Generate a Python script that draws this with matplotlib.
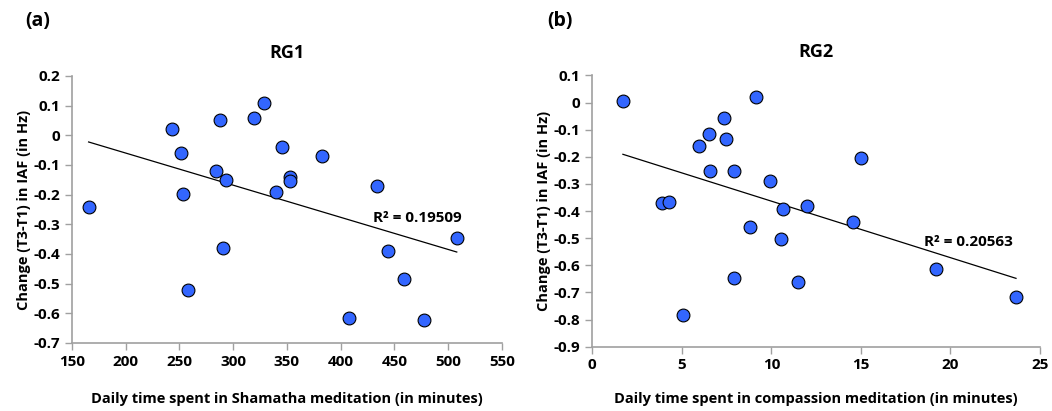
import numpy as np
import matplotlib.pyplot as plt

# RG1: daily Shamatha minutes vs change in IAF
rg1_minutes = [165.5, 243, 251, 253, 257.6, 283.6, 288, 290.8, 293.6, 319.3, 328.9,
               339.5, 345, 353, 352.5, 382.9, 408, 434, 444, 459, 477.5, 508]
rg1_change = [-0.24, 0.02, -0.06, -0.197, -0.52, -0.12, 0.05, -0.38, -0.15, 0.06, 0.11,
              -0.19, -0.04, -0.14, -0.155, -0.07, -0.615, -0.17, -0.39, -0.485, -0.622, -0.345]
rg1_r2 = "0.19509"

# RG2: daily compassion minutes vs change in IAF
rg2_minutes = [1.71, 3.89, 4.30, 5.04, 5.94, 6.52, 6.59, 7.37, 7.46, 7.89, 7.91,
               8.80, 9.12, 9.92, 10.54, 10.65, 11.47, 11.97, 14.54, 14.99, 19.17, 23.66]
rg2_change = [0.005, -0.372, -0.366, -0.783, -0.159, -0.115, -0.254, -0.058, -0.133, -0.254, -0.646,
              -0.459, 0.021, -0.291, -0.503, -0.393, -0.660, -0.382, -0.441, -0.203, -0.615, -0.716]
rg2_r2 = "0.20563"

plt.rcParams['font.family'] = ['Open Sans', 'DejaVu Sans']
plt.rcParams['font.weight'] = 'bold'

fig = plt.figure(figsize=(10.52, 4.11), dpi=100)
ax1 = fig.add_axes([0.0684, 0.1655, 0.4087, 0.6496])
ax2 = fig.add_axes([0.563, 0.1565, 0.4256, 0.660])

ylabel = "Change (T3-T1) in IAF (in Hz)"


def panel(ax, x, y, r2, xlim, xticks, ylim, yticks, title, xlabel, r2_pos, xpad):
    x = np.array(x)
    y = np.array(y)
    ax.scatter(x, y, s=85, color='#3366ff', edgecolors='black', linewidths=0.8, zorder=3)
    k, b = np.polyfit(x, y, 1)
    xs = np.array([x.min(), x.max()])
    ax.plot(xs, k * xs + b, color='black', linewidth=0.9, zorder=2)
    ax.text(r2_pos[0], r2_pos[1], "R² = " + r2, fontsize=11, fontweight='bold',
            va='center', ha='left')
    ax.set_xlim(*xlim)
    ax.set_ylim(*ylim)
    ax.set_xticks(xticks)
    ax.set_yticks(yticks)
    ax.set_yticklabels(["0" if abs(t) < 1e-9 else f"{t:.1f}" for t in yticks])
    for s in ['top', 'right']:
        ax.spines[s].set_visible(False)
    for s in ['left', 'bottom']:
        ax.spines[s].set_color('#a0a0a0')
        ax.spines[s].set_linewidth(1.2)
    ax.tick_params(axis='both', colors='#a0a0a0', labelcolor='black', length=5,
                   width=1.0, labelsize=11)
    for lab in ax.get_xticklabels() + ax.get_yticklabels():
        lab.set_fontweight('bold')
    ax.set_title(title, fontsize=13, fontweight='bold', pad=13)
    ax.set_xlabel(xlabel, fontsize=10.5, fontweight='bold', labelpad=xpad)
    ax.set_ylabel(ylabel, fontsize=10.5, fontweight='bold', labelpad=2)


panel(ax1, rg1_minutes, rg1_change, rg1_r2, (150, 550), range(150, 551, 50),
      (-0.7, 0.2), np.round(np.arange(-0.7, 0.21, 0.1), 1), "RG1",
      "Daily time spent in Shamatha meditation (in minutes)", (430, -0.279), 17)
panel(ax2, rg2_minutes, rg2_change, rg2_r2, (0, 25), range(0, 26, 5),
      (-0.9, 0.1), np.round(np.arange(-0.9, 0.11, 0.1), 1), "RG2",
      "Daily time spent in compassion meditation (in minutes)", (18.54, -0.513), 14)

fig.text(0.024, 0.95, "(a)", fontsize=14, fontweight='bold', va='center', ha='left')
fig.text(0.52, 0.95, "(b)", fontsize=14, fontweight='bold', va='center', ha='left')

fig.savefig("out.png", dpi=100)
